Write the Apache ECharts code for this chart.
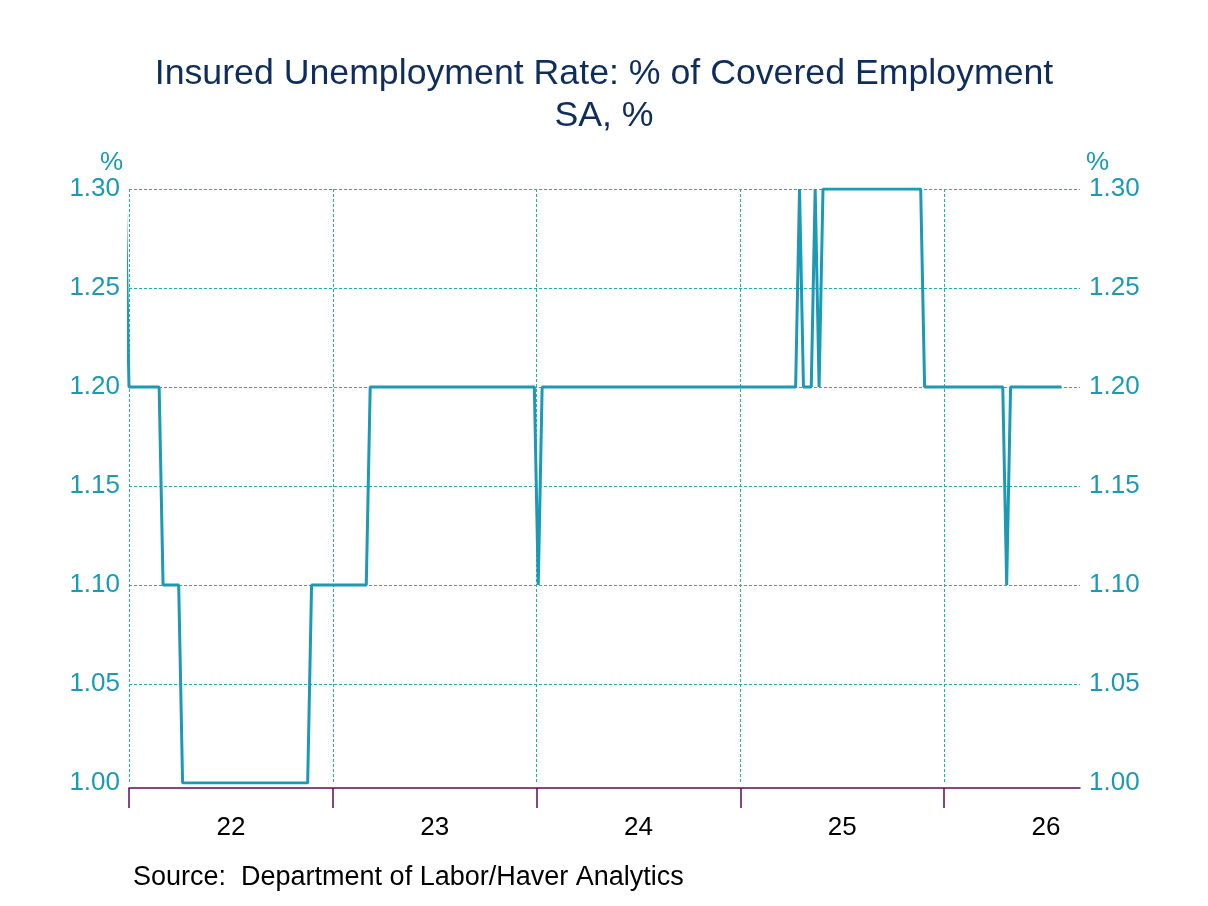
<!DOCTYPE html>
<html>
<head>
    <meta charset="utf-8">
    <title>Insured Unemployment Rate</title>
    <script type="text/javascript" src="https://cdn.jsdelivr.net/npm/echarts@6/dist/echarts.min.js"></script>
    <style>
        html, body { margin: 0; padding: 0; background: #fff; }
    </style>
</head>
<body>
    <div id="main" style="width: 1208px;height:906px;"></div>
</body>
</html>
<script>
    // weekly observations, only the weeks where the value changes (flat between)
    var weeks = [
        '2021-12-25', '2022-01-01', '2022-02-24', '2022-03-03', '2022-03-31', '2022-04-07',
        '2022-11-17', '2022-11-24', '2023-03-02', '2023-03-09', '2023-12-28', '2024-01-04',
        '2024-01-11', '2025-04-10', '2025-04-17', '2025-04-24', '2025-05-08', '2025-05-15',
        '2025-05-22', '2025-05-29', '2025-11-20', '2025-11-27', '2026-04-16', '2026-04-23',
        '2026-04-30', '2026-07-30'
    ];
    var rates = [
        1.30, 1.20, 1.20, 1.10, 1.10, 1.00,
        1.00, 1.10, 1.10, 1.20, 1.20, 1.10,
        1.20, 1.20, 1.30, 1.20, 1.20, 1.30,
        1.20, 1.30, 1.30, 1.20, 1.20, 1.10,
        1.20, 1.20
    ];
    // year boundaries (ticks) and year labels shown in the middle of each year
    var yearTicks = [2022, 2023, 2024, 2025, 2026];
    var yearLabels = ['22', '23', '24', '25', '26'];

    var font = 'Liberation Sans, Arial, sans-serif';
    var teal = '#1a9ab4';
    var gridColor = '#1fb3a4';
    var purple = '#5e0a5a';

    //日期 -> 小数年份
    function toYear(s) {
        var d = Date.parse(s + 'T00:00:00Z');
        var y = new Date(d).getUTCFullYear();
        var a = Date.UTC(y, 0, 1), b = Date.UTC(y + 1, 0, 1);
        return y + (d - a) / (b - a);
    }

    var seriesData = [];
    for (var i = 0; i < weeks.length; i++) {
        seriesData.push([toYear(weeks[i]), rates[i]]);
    }
    var labelPos = yearTicks.map(function (y) { return y + 0.5; });

    var chart = echarts.init(document.getElementById('main'));

    var yAxisBase = {
        type: 'value',
        min: 1.00,
        max: 1.30,
        interval: 0.05,
        name: '%',
        nameLocation: 'end',
        nameGap: 9,
        axisLine: { show: false },
        axisTick: { show: false },
        axisLabel: {
            color: teal,
            fontFamily: font,
            fontSize: 26,
            margin: 9,
            formatter: function (v) { return v.toFixed(2); }
        }
    };

    var option = {
        backgroundColor: '#fff',
        animation: false,
        title: [
            {
                text: 'Insured Unemployment Rate: % of Covered Employment\nSA, %',
                left: 'center',
                top: 53,
                padding: 0,
                textStyle: {
                    color: '#0f2d5c',
                    fontSize: 35.7,
                    fontWeight: 'normal',
                    fontFamily: font,
                    lineHeight: 42
                }
            },
            {
                text: 'Source:  Department of Labor/Haver Analytics',
                left: 133,
                top: 864,
                padding: 0,
                textStyle: {
                    color: '#000',
                    fontSize: 27,
                    fontWeight: 'normal',
                    fontFamily: font
                }
            }
        ],
        grid: {
            left: 129,
            right: 128,
            top: 189,
            bottom: 123
        },
        xAxis: [
            {
                type: 'value',
                min: 2022,
                max: 2026 + 2 / 3,
                interval: 1,
                offset: 5,
                axisLine: { show: true, lineStyle: { color: purple, width: 1.5 } },
                axisTick: {
                    show: true,
                    length: 20,
                    customValues: yearTicks,
                    lineStyle: { color: purple, width: 1.5 }
                },
                axisLabel: { show: false },
                splitLine: {
                    show: true,
                    lineStyle: { color: gridColor, type: [3, 2], width: 1 }
                }
            },
            {
                type: 'value',
                min: 2022,
                max: 2026 + 2 / 3,
                interval: 0.5,
                offset: 5,
                position: 'bottom',
                axisLine: { show: false },
                axisTick: { show: false },
                splitLine: { show: false },
                axisLabel: {
                    color: '#000',
                    fontFamily: font,
                    fontSize: 26,
                    margin: 27,
                    customValues: labelPos,
                    formatter: function (v) {
                        var k = yearTicks.indexOf(Math.floor(v));
                        return (k >= 0 && v - Math.floor(v) > 0.25) ? yearLabels[k] : '';
                    }
                }
            }
        ],
        yAxis: [
            Object.assign({}, yAxisBase, {
                position: 'left',
                nameTextStyle: { color: teal, fontFamily: font, fontSize: 26, align: 'right', padding: [0, 6, 0, 0] },
                splitLine: {
                    show: true,
                    showMinLine: false,
                    lineStyle: { color: gridColor, type: [3, 2], width: 1 }
                }
            }),
            Object.assign({}, yAxisBase, {
                position: 'right',
                nameTextStyle: { color: teal, fontFamily: font, fontSize: 26, align: 'left', padding: [0, 0, 0, 6] },
                splitLine: { show: false }
            })
        ],
        series: [
            {
                name: 'Insured Unemployment Rate',
                type: 'line',
                xAxisIndex: 0,
                yAxisIndex: 0,
                data: seriesData,
                showSymbol: false,
                clip: true,
                lineStyle: { color: teal, width: 3 }
            }
        ]
    };

    chart.setOption(option);
</script>
